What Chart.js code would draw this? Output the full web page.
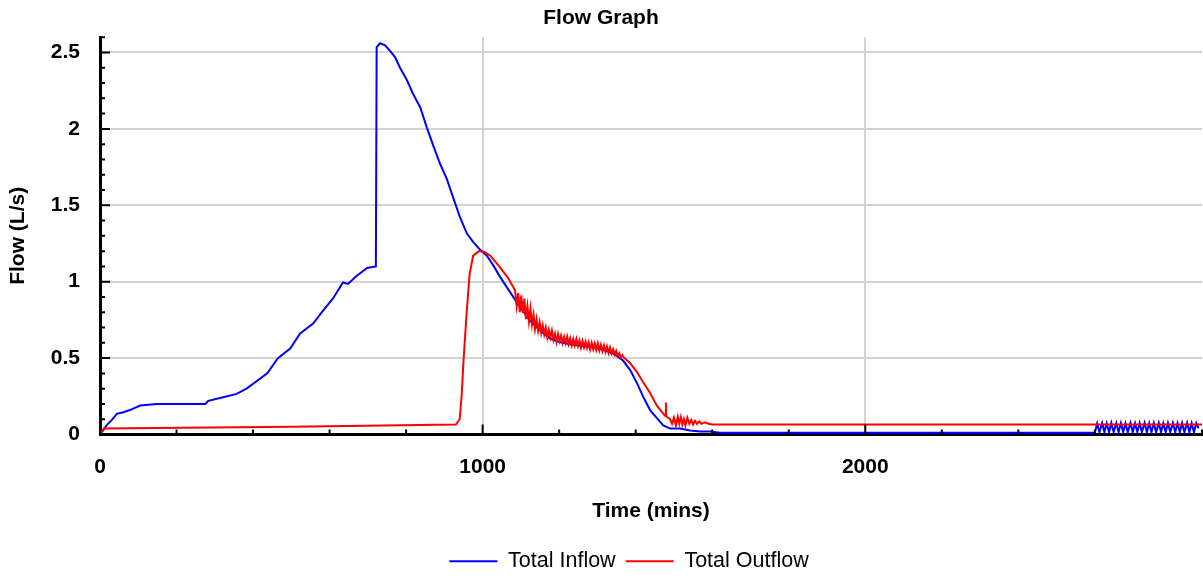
<!DOCTYPE html>
<html>
<head>
<meta charset="utf-8">
<script src="https://cdn.jsdelivr.net/npm/chart.js@4.4.1/dist/chart.umd.min.js"></script>
<style>
  html, body { margin: 0; padding: 0; background: #fff; }
  #wrap { width: 1203px; height: 576px; }
</style>
</head>
<body>
<div id="wrap"><canvas id="flowChart"></canvas></div>
<script>
// ---- data (time in mins, flow in L/s) ----
const inflowTime = [0, 5, 17, 31, 44, 61, 78, 105, 148, 275, 283, 322, 357, 383, 410, 437, 465, 497, 523, 557,
  583, 609, 635, 648, 672, 698, 721, 723, 732, 745, 758, 771, 784, 802, 818, 837, 854, 871, 889, 906,
  923, 941, 959, 975, 993, 1011, 1027, 1046, 1072, 1098, 1124, 1150, 1176, 1203, 1229, 1255, 1281, 1307, 1341, 1367,
  1386, 1404, 1420, 1438, 1456, 1472, 1490, 1516, 1542, 1569, 1595, 1620, 2600,
  2606, 2612, 2619, 2625, 2631, 2637, 2643, 2649, 2656, 2662, 2668, 2674, 2680, 2686, 2693, 2699, 2705, 2711,
  2717, 2723, 2730, 2736, 2742, 2748, 2754, 2760, 2767, 2773, 2779, 2785, 2791, 2797, 2804, 2810, 2816, 2822,
  2828, 2834, 2841, 2847, 2853, 2859, 2865, 2871, 2878, 2880];
const inflowFlow = [0, 0.015, 0.06, 0.096, 0.135, 0.146, 0.16, 0.19, 0.20, 0.20, 0.22, 0.244, 0.266, 0.30, 0.35, 0.40, 0.50, 0.563, 0.661, 0.726,
  0.81, 0.89, 0.995, 0.985, 1.04, 1.09, 1.10, 2.535, 2.56, 2.546, 2.51, 2.47, 2.40, 2.32, 2.23, 2.14, 2.01, 1.89, 1.77, 1.675,
  1.55, 1.42, 1.315, 1.26, 1.21, 1.17, 1.11, 1.03, 0.93, 0.833, 0.746, 0.68, 0.628, 0.604, 0.59, 0.58, 0.575, 0.56, 0.53, 0.484,
  0.42, 0.333, 0.245, 0.157, 0.105, 0.059, 0.039, 0.039, 0.026, 0.02, 0.02, 0.012, 0.012,
  0.072, 0.015, 0.075, 0.016, 0.073, 0.015, 0.076, 0.016, 0.074, 0.015, 0.075, 0.016, 0.073, 0.015, 0.076, 0.016, 0.074,
  0.015, 0.075, 0.016, 0.076, 0.015, 0.074, 0.016, 0.075, 0.015, 0.076, 0.016, 0.074, 0.015, 0.075, 0.016, 0.076,
  0.015, 0.074, 0.016, 0.075, 0.015, 0.076, 0.016, 0.074, 0.015, 0.075, 0.04];

const outflowTime = [0, 10, 500, 930, 940, 945, 950, 958, 966, 975, 990, 1005, 1020, 1040, 1065, 1081,
  1085, 1089, 1093, 1097, 1101, 1105, 1109, 1113, 1117, 1121, 1125, 1129, 1133, 1137, 1141, 1145, 1149, 1153, 1157, 1161,
  1165, 1169, 1173, 1177, 1181, 1185, 1189, 1193, 1197, 1201, 1205, 1209, 1213, 1217, 1221, 1225, 1229, 1233, 1237, 1241,
  1245, 1249, 1253, 1257, 1261, 1265, 1269, 1273, 1277, 1281, 1285, 1289, 1293, 1297, 1301, 1305, 1309, 1313, 1317, 1321,
  1325, 1329, 1333, 1337, 1341, 1345, 1349, 1353, 1357, 1361, 1365, 1369, 1373,
  1386, 1403, 1420, 1438, 1455, 1472, 1478, 1479, 1480, 1482, 1490, 1495, 1500, 1505, 1510, 1514, 1518, 1522, 1526, 1530,
  1535, 1540, 1545, 1550, 1555, 1560, 1566, 1572, 1580, 1590, 1600, 2880];
const outflowFlow = [0, 0.04, 0.05, 0.065, 0.10, 0.25, 0.48, 0.79, 1.05, 1.17, 1.20, 1.195, 1.17, 1.11, 1.03, 0.96,
  0.94, 0.84, 0.925, 0.80, 0.91, 0.795, 0.89, 0.755, 0.84, 0.74, 0.825, 0.72, 0.785, 0.69, 0.755, 0.68, 0.735, 0.665, 0.715, 0.655,
  0.70, 0.635, 0.685, 0.635, 0.68, 0.62, 0.66, 0.605, 0.657, 0.61, 0.647, 0.599, 0.64, 0.598, 0.64, 0.592, 0.63, 0.583, 0.625, 0.583,
  0.625, 0.578, 0.616, 0.569, 0.612, 0.57, 0.608, 0.566, 0.604, 0.557, 0.60, 0.558, 0.596, 0.554, 0.597, 0.55, 0.588, 0.545, 0.582, 0.54,
  0.577, 0.534, 0.57, 0.531, 0.557, 0.523, 0.548, 0.513, 0.532, 0.506, 0.52, 0.503, 0.496,
  0.465, 0.41, 0.34, 0.27, 0.19, 0.137, 0.12, 0.21, 0.12, 0.115, 0.10, 0.07, 0.11, 0.06, 0.115, 0.07, 0.113, 0.065, 0.10, 0.06,
  0.11, 0.07, 0.095, 0.065, 0.09, 0.07, 0.085, 0.07, 0.08, 0.07, 0.065, 0.065];

const xMax = 2880;
const yMax = 2.6;

function toPoints(ts, vs) {
  return ts.map((t, i) => ({ x: t, y: vs[i] }));
}

// ----------------- inward tick marks + legend nudge -----------------
const innerTicks = {
  id: 'innerTicks',
  afterLayout(chart) {
    // legend sits a bit right of centre in the original
    chart.legend.left += 28;
    chart.legend.right += 28;
  },
  afterDraw(chart) {
    const { ctx, chartArea, scales } = chart;
    const xs = scales.x, ys = scales.y;
    ctx.save();
    ctx.strokeStyle = '#000';
    ctx.lineWidth = 2;
    ctx.beginPath();
    xs.ticks.forEach(t => {
      const px = xs.getPixelForValue(t.value);
      const len = t.value % 1000 === 0 ? 10 : 5;
      ctx.moveTo(px, chartArea.bottom);
      ctx.lineTo(px, chartArea.bottom - len);
    });
    ys.ticks.forEach(t => {
      const py = ys.getPixelForValue(t.value);
      const len = Math.round(t.value * 10) % 5 === 0 ? 10 : 5;
      ctx.moveTo(chartArea.left, py);
      ctx.lineTo(chartArea.left + len, py);
    });
    ctx.stroke();
    ctx.restore();
  }
};

const font = 'Liberation Sans, Arial, sans-serif';
const ctx = document.getElementById('flowChart').getContext('2d');
new Chart(ctx, {
  type: 'line',
  data: {
    datasets: [{
      label: 'Total Inflow',
      data: toPoints(inflowTime, inflowFlow),
      borderColor: '#0000ff',
      backgroundColor: '#0000ff',
      borderWidth: 2,
      pointRadius: 0,
      tension: 0,
      order: 1
    }, {
      label: 'Total Outflow',
      data: toPoints(outflowTime, outflowFlow),
      borderColor: '#ff0000',
      backgroundColor: '#ff0000',
      borderWidth: 2,
      pointRadius: 0,
      tension: 0,
      order: 0
    }]
  },
  options: {
    responsive: true,
    maintainAspectRatio: false,
    animation: false,
    layout: { padding: { left: 0, right: 1, top: 0, bottom: -6 } },
    plugins: {
      title: {
        display: true,
        text: 'Flow Graph',
        color: '#000',
        font: { family: font, size: 21, weight: 'bold' },
        padding: { top: 6, bottom: 6 }
      },
      legend: {
        position: 'bottom',
        labels: {
          color: '#000',
          font: { family: font, size: 21.5 },
          usePointStyle: true,
          pointStyle: 'line',
          pointStyleWidth: 48,
          boxHeight: 2,
          padding: 10,
          sort: (a, b) => a.datasetIndex - b.datasetIndex
        }
      },
      tooltip: { enabled: false }
    },
    scales: {
      x: {
        type: 'linear',
        min: 0,
        max: xMax,
        afterFit: s => { s.height = 106; s.paddingLeft = 0; s.paddingRight = 0; },
        grid: {
          drawTicks: false,
          color: c => (c.tick && c.tick.value > 0 && c.tick.value % 1000 === 0) ? '#d3d3d3' : 'rgba(0,0,0,0)',
          lineWidth: 2
        },
        border: { display: true, color: '#000', width: 3 },
        ticks: {
          stepSize: 200,
          autoSkip: false,
          maxRotation: 0,
          padding: 20,
          color: '#000',
          font: { family: font, size: 21, weight: 'bold' },
          callback: v => (v % 1000 === 0 ? String(v) : '')
        },
        title: {
          display: true,
          text: 'Time (mins)',
          color: '#000',
          font: { family: font, size: 21, weight: 'bold' },
          padding: { top: 10, bottom: 17 }
        }
      },
      y: {
        min: 0,
        max: yMax,
        afterFit: s => { s.width = 100; },
        grid: {
          drawTicks: false,
          color: c => (c.tick && c.tick.value > 0 && Math.round(c.tick.value * 10) % 5 === 0) ? '#d3d3d3' : 'rgba(0,0,0,0)',
          lineWidth: 2
        },
        border: { display: true, color: '#000', width: 3 },
        ticks: {
          stepSize: 0.1,
          autoSkip: false,
          padding: 20,
          color: '#000',
          font: { family: font, size: 21, weight: 'bold' },
          callback: v => (Math.round(v * 10) % 5 === 0 ? String(Math.round(v * 10) / 10) : '')
        },
        title: {
          display: true,
          text: 'Flow (L/s)',
          color: '#000',
          font: { family: font, size: 21, weight: 'bold' },
          padding: { top: 6, bottom: 20 }
        }
      }
    }
  },
  plugins: [innerTicks]
});
</script>
</body>
</html>
